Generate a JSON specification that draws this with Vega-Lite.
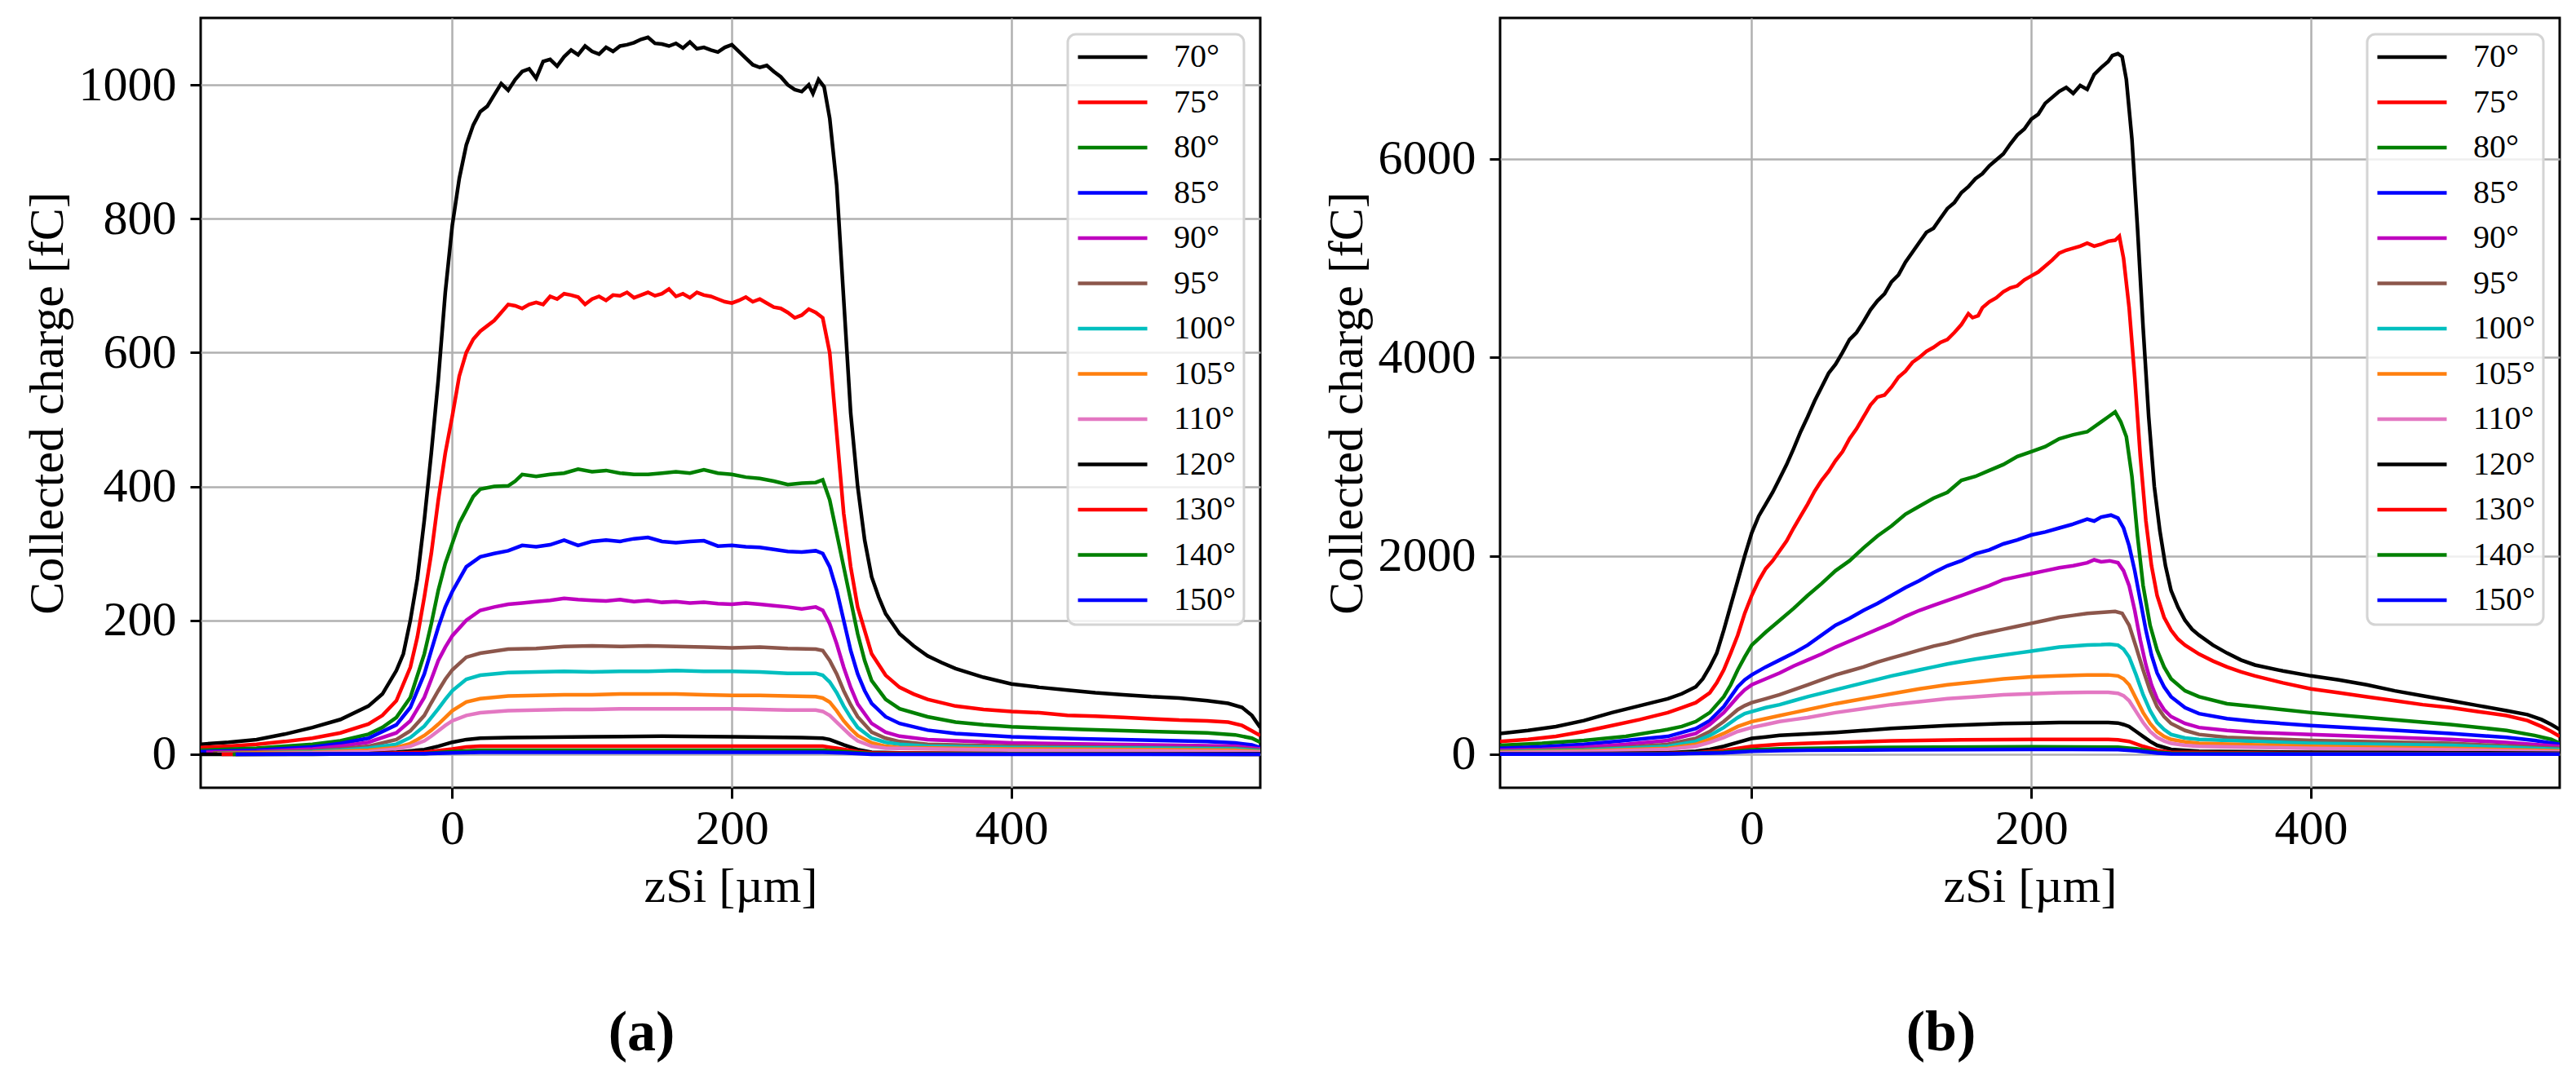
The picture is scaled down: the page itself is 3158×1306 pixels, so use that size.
{
  "$schema": "https://vega.github.io/schema/vega-lite/v6.json",
  "background": "white",
  "padding": {"left": 26, "top": 20, "right": 20, "bottom": 10},
  "data": {
    "format": {"type": "csv", "parse": {"x": "number", "y": "number"}},
    "values": "p,s,x,y\na,70°,-180,15\na,70°,-160,18\na,70°,-140,22\na,70°,-120,30\na,70°,-100,40\na,70°,-80,52\na,70°,-60,72\na,70°,-50,90\na,70°,-40,125\na,70°,-35,150\na,70°,-30,200\na,70°,-25,262\na,70°,-20,350\na,70°,-15,450\na,70°,-10,560\na,70°,-5,690\na,70°,0,790\na,70°,5,860\na,70°,10,910\na,70°,15,940\na,70°,20,960\na,70°,25,968\na,70°,30,985\na,70°,35,1002\na,70°,40,992\na,70°,45,1008\na,70°,50,1020\na,70°,55,1024\na,70°,60,1010\na,70°,65,1035\na,70°,70,1038\na,70°,75,1028\na,70°,80,1042\na,70°,85,1052\na,70°,90,1045\na,70°,95,1058\na,70°,100,1050\na,70°,105,1046\na,70°,110,1056\na,70°,115,1050\na,70°,120,1058\na,70°,125,1060\na,70°,130,1063\na,70°,135,1068\na,70°,140,1071\na,70°,145,1062\na,70°,150,1061\na,70°,155,1058\na,70°,160,1062\na,70°,165,1055\na,70°,170,1064\na,70°,175,1054\na,70°,180,1056\na,70°,185,1052\na,70°,190,1049\na,70°,195,1056\na,70°,200,1060\na,70°,205,1050\na,70°,210,1040\na,70°,215,1030\na,70°,220,1026\na,70°,225,1029\na,70°,230,1020\na,70°,235,1012\na,70°,240,1000\na,70°,245,993\na,70°,250,990\na,70°,255,1000\na,70°,258,987\na,70°,262,1008\na,70°,266,997\na,70°,270,950\na,70°,275,850\na,70°,280,680\na,70°,285,510\na,70°,290,400\na,70°,295,320\na,70°,300,265\na,70°,305,235\na,70°,310,210\na,70°,320,180\na,70°,330,162\na,70°,340,147\na,70°,350,137\na,70°,360,128\na,70°,380,115\na,70°,400,105\na,70°,420,100\na,70°,440,96\na,70°,460,92\na,70°,480,89\na,70°,500,86\na,70°,520,84\na,70°,540,80\na,70°,555,76\na,70°,565,70\na,70°,572,58\na,70°,578,40\na,75°,-180,10\na,75°,-160,12\na,75°,-140,15\na,75°,-120,19\na,75°,-100,24\na,75°,-80,32\na,75°,-60,45\na,75°,-50,58\na,75°,-40,80\na,75°,-30,130\na,75°,-25,175\na,75°,-20,235\na,75°,-15,300\na,75°,-10,380\na,75°,-5,450\na,75°,0,505\na,75°,5,565\na,75°,10,600\na,75°,15,620\na,75°,20,632\na,75°,25,640\na,75°,30,648\na,75°,35,660\na,75°,40,672\na,75°,45,670\na,75°,50,666\na,75°,55,672\na,75°,60,675\na,75°,65,672\na,75°,70,684\na,75°,75,680\na,75°,80,688\na,75°,85,686\na,75°,90,683\na,75°,95,672\na,75°,100,680\na,75°,105,684\na,75°,110,678\na,75°,115,686\na,75°,120,685\na,75°,125,690\na,75°,130,682\na,75°,135,686\na,75°,140,690\na,75°,145,685\na,75°,150,688\na,75°,155,695\na,75°,160,684\na,75°,165,688\na,75°,170,682\na,75°,175,690\na,75°,180,686\na,75°,185,684\na,75°,190,680\na,75°,195,676\na,75°,200,674\na,75°,205,678\na,75°,210,683\na,75°,215,676\na,75°,220,680\na,75°,225,674\na,75°,230,668\na,75°,235,666\na,75°,240,660\na,75°,245,652\na,75°,250,656\na,75°,255,665\na,75°,260,660\na,75°,265,652\na,75°,270,600\na,75°,275,480\na,75°,280,360\na,75°,285,280\na,75°,290,220\na,75°,300,150\na,75°,310,118\na,75°,320,100\na,75°,330,90\na,75°,340,82\na,75°,360,72\na,75°,380,67\na,75°,400,64\na,75°,420,62\na,75°,440,58\na,75°,460,57\na,75°,480,55\na,75°,500,53\na,75°,520,51\na,75°,540,50\na,75°,555,48\na,75°,565,43\na,75°,572,35\na,75°,578,28\na,80°,-180,6\na,80°,-140,9\na,80°,-100,15\na,80°,-80,20\na,80°,-60,30\na,80°,-50,40\na,80°,-40,55\na,80°,-30,85\na,80°,-20,150\na,80°,-15,195\na,80°,-10,245\na,80°,-5,285\na,80°,0,315\na,80°,5,345\na,80°,10,365\na,80°,15,385\na,80°,20,396\na,80°,30,400\na,80°,40,401\na,80°,45,408\na,80°,50,418\na,80°,60,415\na,80°,70,418\na,80°,80,420\na,80°,90,426\na,80°,100,422\na,80°,110,424\na,80°,120,420\na,80°,130,418\na,80°,140,418\na,80°,150,420\na,80°,160,422\na,80°,170,420\na,80°,180,425\na,80°,190,420\na,80°,200,418\na,80°,210,414\na,80°,220,412\na,80°,230,408\na,80°,240,403\na,80°,250,405\na,80°,260,406\na,80°,265,410\na,80°,270,380\na,80°,275,330\na,80°,280,280\na,80°,285,230\na,80°,290,180\na,80°,295,140\na,80°,300,110\na,80°,310,82\na,80°,320,68\na,80°,340,56\na,80°,360,48\na,80°,380,44\na,80°,400,41\na,80°,450,37\na,80°,500,34\na,80°,540,32\na,80°,560,29\na,80°,572,24\na,80°,578,18\na,85°,-180,4\na,85°,-140,6\na,85°,-100,11\na,85°,-80,16\na,85°,-60,24\na,85°,-40,44\na,85°,-30,70\na,85°,-20,120\na,85°,-15,155\na,85°,-10,190\na,85°,-5,220\na,85°,0,243\na,85°,10,280\na,85°,20,295\na,85°,30,300\na,85°,40,304\na,85°,50,312\na,85°,60,310\na,85°,70,313\na,85°,80,320\na,85°,90,312\na,85°,100,318\na,85°,110,320\na,85°,120,318\na,85°,130,322\na,85°,140,324\na,85°,150,318\na,85°,160,316\na,85°,170,318\na,85°,180,319\na,85°,190,311\na,85°,200,312\na,85°,210,310\na,85°,220,309\na,85°,230,306\na,85°,240,303\na,85°,250,302\na,85°,260,304\na,85°,265,300\na,85°,270,280\na,85°,275,245\na,85°,280,200\na,85°,285,155\na,85°,290,120\na,85°,295,95\na,85°,300,76\na,85°,310,56\na,85°,320,46\na,85°,340,36\na,85°,360,31\na,85°,400,26\na,85°,450,23\na,85°,500,21\na,85°,540,19\na,85°,560,17\na,85°,572,14\na,85°,578,10\na,90°,-176,3\na,90°,-140,4\na,90°,-100,8\na,90°,-80,12\na,90°,-60,18\na,90°,-40,32\na,90°,-30,50\na,90°,-20,85\na,90°,-15,112\na,90°,-10,140\na,90°,-5,160\na,90°,0,177\na,90°,10,200\na,90°,20,215\na,90°,30,220\na,90°,40,224\na,90°,50,226\na,90°,60,228\na,90°,70,230\na,90°,80,233\na,90°,90,231\na,90°,100,230\na,90°,110,229\na,90°,120,231\na,90°,130,228\na,90°,140,230\na,90°,150,227\na,90°,160,228\na,90°,170,226\na,90°,180,227\na,90°,190,225\na,90°,200,224\na,90°,210,226\na,90°,220,224\na,90°,230,222\na,90°,240,220\na,90°,250,217\na,90°,260,220\na,90°,265,215\na,90°,270,195\na,90°,275,165\na,90°,280,130\na,90°,285,100\na,90°,290,75\na,90°,300,46\na,90°,310,33\na,90°,320,27\na,90°,340,22\na,90°,400,17\na,90°,500,14\na,90°,560,12\na,90°,578,8\na,95°,-171,2\na,95°,-140,3\na,95°,-100,5\na,95°,-80,8\na,95°,-60,12\na,95°,-40,22\na,95°,-30,35\na,95°,-20,58\na,95°,-15,77\na,95°,-10,95\na,95°,-5,112\na,95°,0,126\na,95°,10,145\na,95°,20,151\na,95°,30,154\na,95°,40,157\na,95°,60,158\na,95°,80,161\na,95°,100,162\na,95°,120,161\na,95°,140,162\na,95°,160,161\na,95°,180,160\na,95°,200,159\na,95°,220,160\na,95°,240,158\na,95°,260,157\na,95°,265,155\na,95°,270,140\na,95°,275,120\na,95°,280,95\na,95°,285,74\na,95°,290,56\na,95°,300,33\na,95°,310,24\na,95°,320,19\na,95°,340,15\na,95°,400,12\na,95°,500,10\na,95°,560,9\na,95°,578,6\na,100°,-168,1\na,100°,-140,2\na,100°,-100,4\na,100°,-80,6\na,100°,-60,9\na,100°,-40,15\na,100°,-30,25\na,100°,-20,42\na,100°,-15,55\na,100°,-10,68\na,100°,-5,82\na,100°,0,95\na,100°,10,112\na,100°,20,118\na,100°,40,122\na,100°,60,123\na,100°,80,124\na,100°,100,123\na,100°,120,124\na,100°,140,124\na,100°,160,125\na,100°,180,124\na,100°,200,124\na,100°,220,123\na,100°,240,121\na,100°,260,121\na,100°,265,118\na,100°,270,108\na,100°,275,92\na,100°,280,72\na,100°,285,55\na,100°,290,40\na,100°,300,24\na,100°,310,18\na,100°,320,15\na,100°,340,12\na,100°,400,10\na,100°,500,9\na,100°,560,8\na,100°,578,5\na,105°,-168,1\na,105°,-140,2\na,105°,-100,3\na,105°,-60,6\na,105°,-40,10\na,105°,-30,16\na,105°,-20,28\na,105°,-15,36\na,105°,-10,45\na,105°,-5,55\na,105°,0,65\na,105°,10,78\na,105°,20,83\na,105°,40,87\na,105°,60,88\na,105°,80,89\na,105°,100,89\na,105°,120,90\na,105°,140,90\na,105°,160,90\na,105°,180,89\na,105°,200,88\na,105°,220,88\na,105°,240,87\na,105°,260,86\na,105°,265,84\na,105°,270,78\na,105°,275,65\na,105°,280,50\na,105°,285,38\na,105°,290,28\na,105°,300,17\na,105°,310,12\na,105°,320,10\na,105°,400,8\na,105°,500,7\na,105°,560,6\na,105°,578,4\na,110°,-168,1\na,110°,-140,1\na,110°,-100,2\na,110°,-60,4\na,110°,-40,8\na,110°,-30,12\na,110°,-20,20\na,110°,-15,27\na,110°,-10,35\na,110°,-5,43\na,110°,0,50\na,110°,10,58\na,110°,20,62\na,110°,40,65\na,110°,60,66\na,110°,80,67\na,110°,100,67\na,110°,120,68\na,110°,140,68\na,110°,160,68\na,110°,180,68\na,110°,200,68\na,110°,220,67\na,110°,240,66\na,110°,260,66\na,110°,265,64\na,110°,270,58\na,110°,275,48\na,110°,280,38\na,110°,285,28\na,110°,290,20\na,110°,300,12\na,110°,310,9\na,110°,400,6\na,110°,500,5\na,110°,560,4\na,110°,578,3\na,120°,-180,0\na,120°,-100,0\na,120°,-60,1\na,120°,-40,3\na,120°,-20,7\na,120°,-10,12\na,120°,0,18\na,120°,10,22\na,120°,20,24\na,120°,40,25\na,120°,100,26\na,120°,150,27\na,120°,200,26\na,120°,250,25\na,120°,265,24\na,120°,270,22\na,120°,280,14\na,120°,290,7\na,120°,300,3\na,120°,320,2\na,120°,400,1\na,120°,578,1\na,130°,-165,0\na,130°,-60,1\na,130°,-20,3\na,130°,0,8\na,130°,10,11\na,130°,20,12\na,130°,100,12\na,130°,200,12\na,130°,265,12\na,130°,275,9\na,130°,290,4\na,130°,300,2\na,130°,400,1\na,130°,578,0\na,140°,-157,0\na,140°,-20,1\na,140°,0,4\na,140°,20,6\na,140°,265,6\na,140°,280,4\na,140°,300,1\na,140°,578,0\na,150°,-155,0\na,150°,-20,1\na,150°,0,2\na,150°,20,3\na,150°,265,3\na,150°,280,2\na,150°,300,0\na,150°,578,0\nb,70°,-180,210\nb,70°,-160,240\nb,70°,-140,280\nb,70°,-120,340\nb,70°,-100,420\nb,70°,-80,490\nb,70°,-60,560\nb,70°,-50,610\nb,70°,-40,680\nb,70°,-35,760\nb,70°,-30,880\nb,70°,-25,1020\nb,70°,-20,1250\nb,70°,-15,1500\nb,70°,-10,1750\nb,70°,-5,2000\nb,70°,0,2230\nb,70°,5,2400\nb,70°,10,2520\nb,70°,15,2640\nb,70°,20,2780\nb,70°,25,2920\nb,70°,30,3080\nb,70°,35,3250\nb,70°,40,3400\nb,70°,45,3560\nb,70°,50,3700\nb,70°,55,3840\nb,70°,60,3930\nb,70°,65,4050\nb,70°,70,4180\nb,70°,75,4250\nb,70°,80,4360\nb,70°,85,4480\nb,70°,90,4570\nb,70°,95,4640\nb,70°,100,4760\nb,70°,105,4830\nb,70°,110,4960\nb,70°,115,5060\nb,70°,120,5160\nb,70°,125,5260\nb,70°,130,5300\nb,70°,135,5400\nb,70°,140,5500\nb,70°,145,5560\nb,70°,150,5660\nb,70°,155,5720\nb,70°,160,5800\nb,70°,165,5850\nb,70°,170,5930\nb,70°,175,5990\nb,70°,180,6050\nb,70°,185,6150\nb,70°,190,6240\nb,70°,195,6300\nb,70°,200,6400\nb,70°,205,6450\nb,70°,210,6560\nb,70°,215,6620\nb,70°,220,6680\nb,70°,225,6720\nb,70°,230,6660\nb,70°,235,6740\nb,70°,240,6700\nb,70°,245,6850\nb,70°,250,6920\nb,70°,255,6980\nb,70°,258,7040\nb,70°,262,7060\nb,70°,265,7030\nb,70°,268,6800\nb,70°,272,6200\nb,70°,276,5300\nb,70°,280,4300\nb,70°,284,3400\nb,70°,288,2700\nb,70°,292,2250\nb,70°,296,1900\nb,70°,300,1650\nb,70°,305,1480\nb,70°,310,1350\nb,70°,315,1260\nb,70°,320,1200\nb,70°,330,1100\nb,70°,340,1020\nb,70°,350,950\nb,70°,360,900\nb,70°,380,840\nb,70°,400,790\nb,70°,420,750\nb,70°,440,700\nb,70°,460,640\nb,70°,480,590\nb,70°,500,540\nb,70°,520,490\nb,70°,540,440\nb,70°,555,400\nb,70°,565,350\nb,70°,572,300\nb,70°,578,250\nb,75°,-180,130\nb,75°,-160,150\nb,75°,-140,180\nb,75°,-120,230\nb,75°,-100,290\nb,75°,-80,350\nb,75°,-60,420\nb,75°,-50,470\nb,75°,-40,520\nb,75°,-30,620\nb,75°,-25,720\nb,75°,-20,850\nb,75°,-15,1020\nb,75°,-10,1200\nb,75°,-5,1420\nb,75°,0,1600\nb,75°,5,1750\nb,75°,10,1870\nb,75°,15,1950\nb,75°,20,2050\nb,75°,25,2150\nb,75°,30,2280\nb,75°,35,2400\nb,75°,40,2520\nb,75°,45,2650\nb,75°,50,2760\nb,75°,55,2850\nb,75°,60,2960\nb,75°,65,3050\nb,75°,70,3180\nb,75°,75,3280\nb,75°,80,3400\nb,75°,85,3520\nb,75°,90,3600\nb,75°,95,3620\nb,75°,100,3700\nb,75°,105,3800\nb,75°,110,3860\nb,75°,115,3950\nb,75°,120,4000\nb,75°,125,4060\nb,75°,130,4100\nb,75°,135,4150\nb,75°,140,4180\nb,75°,145,4250\nb,75°,150,4330\nb,75°,155,4440\nb,75°,158,4400\nb,75°,162,4420\nb,75°,165,4500\nb,75°,170,4560\nb,75°,175,4600\nb,75°,180,4660\nb,75°,185,4700\nb,75°,190,4720\nb,75°,195,4780\nb,75°,200,4820\nb,75°,205,4860\nb,75°,210,4920\nb,75°,215,4980\nb,75°,220,5050\nb,75°,225,5080\nb,75°,230,5100\nb,75°,235,5120\nb,75°,240,5150\nb,75°,245,5120\nb,75°,250,5140\nb,75°,255,5170\nb,75°,260,5180\nb,75°,263,5220\nb,75°,266,5000\nb,75°,270,4500\nb,75°,274,3800\nb,75°,278,3000\nb,75°,282,2350\nb,75°,286,1900\nb,75°,290,1600\nb,75°,295,1380\nb,75°,300,1250\nb,75°,305,1160\nb,75°,310,1100\nb,75°,320,1010\nb,75°,330,940\nb,75°,340,880\nb,75°,350,830\nb,75°,360,790\nb,75°,380,720\nb,75°,400,660\nb,75°,420,620\nb,75°,440,580\nb,75°,460,540\nb,75°,480,500\nb,75°,500,470\nb,75°,520,430\nb,75°,540,390\nb,75°,555,340\nb,75°,565,280\nb,75°,572,230\nb,75°,578,180\nb,80°,-180,90\nb,80°,-150,110\nb,80°,-120,140\nb,80°,-90,180\nb,80°,-60,250\nb,80°,-50,280\nb,80°,-40,330\nb,80°,-30,420\nb,80°,-20,580\nb,80°,-15,700\nb,80°,-10,850\nb,80°,-5,980\nb,80°,0,1100\nb,80°,10,1230\nb,80°,20,1350\nb,80°,30,1470\nb,80°,40,1600\nb,80°,50,1720\nb,80°,60,1850\nb,80°,70,1950\nb,80°,80,2080\nb,80°,90,2200\nb,80°,100,2300\nb,80°,110,2420\nb,80°,120,2500\nb,80°,130,2580\nb,80°,140,2640\nb,80°,150,2760\nb,80°,160,2800\nb,80°,170,2860\nb,80°,180,2920\nb,80°,190,3000\nb,80°,200,3050\nb,80°,210,3100\nb,80°,220,3180\nb,80°,230,3220\nb,80°,240,3250\nb,80°,250,3350\nb,80°,255,3400\nb,80°,260,3450\nb,80°,264,3350\nb,80°,268,3200\nb,80°,272,2800\nb,80°,276,2200\nb,80°,280,1700\nb,80°,285,1300\nb,80°,290,1050\nb,80°,295,880\nb,80°,300,760\nb,80°,310,640\nb,80°,320,580\nb,80°,340,510\nb,80°,360,480\nb,80°,380,450\nb,80°,400,420\nb,80°,450,360\nb,80°,500,300\nb,80°,540,240\nb,80°,560,190\nb,80°,572,150\nb,80°,578,110\nb,85°,-180,60\nb,85°,-150,75\nb,85°,-120,100\nb,85°,-90,140\nb,85°,-60,180\nb,85°,-40,260\nb,85°,-30,340\nb,85°,-20,480\nb,85°,-15,580\nb,85°,-10,680\nb,85°,-5,750\nb,85°,0,800\nb,85°,10,880\nb,85°,20,950\nb,85°,30,1020\nb,85°,40,1100\nb,85°,50,1200\nb,85°,60,1300\nb,85°,70,1370\nb,85°,80,1450\nb,85°,90,1520\nb,85°,100,1600\nb,85°,110,1680\nb,85°,120,1750\nb,85°,130,1830\nb,85°,140,1900\nb,85°,150,1950\nb,85°,160,2020\nb,85°,170,2060\nb,85°,180,2120\nb,85°,190,2160\nb,85°,200,2210\nb,85°,210,2240\nb,85°,220,2280\nb,85°,230,2320\nb,85°,240,2370\nb,85°,245,2350\nb,85°,250,2390\nb,85°,257,2410\nb,85°,262,2380\nb,85°,266,2280\nb,85°,270,2100\nb,85°,274,1850\nb,85°,278,1550\nb,85°,282,1250\nb,85°,286,1000\nb,85°,290,820\nb,85°,295,680\nb,85°,300,580\nb,85°,310,470\nb,85°,320,410\nb,85°,340,360\nb,85°,360,330\nb,85°,400,290\nb,85°,450,250\nb,85°,500,210\nb,85°,540,170\nb,85°,560,140\nb,85°,578,100\nb,90°,-180,40\nb,90°,-150,50\nb,90°,-120,70\nb,90°,-90,100\nb,90°,-60,140\nb,90°,-40,210\nb,90°,-30,300\nb,90°,-20,420\nb,90°,-15,500\nb,90°,-10,580\nb,90°,-5,650\nb,90°,0,700\nb,90°,10,760\nb,90°,20,820\nb,90°,30,890\nb,90°,40,950\nb,90°,50,1010\nb,90°,60,1080\nb,90°,70,1140\nb,90°,80,1200\nb,90°,90,1260\nb,90°,100,1320\nb,90°,110,1390\nb,90°,120,1450\nb,90°,130,1500\nb,90°,140,1550\nb,90°,150,1600\nb,90°,160,1650\nb,90°,170,1700\nb,90°,180,1760\nb,90°,190,1790\nb,90°,200,1820\nb,90°,210,1850\nb,90°,220,1880\nb,90°,230,1900\nb,90°,240,1930\nb,90°,245,1960\nb,90°,250,1940\nb,90°,256,1950\nb,90°,262,1930\nb,90°,266,1850\nb,90°,270,1700\nb,90°,274,1450\nb,90°,278,1150\nb,90°,282,900\nb,90°,286,700\nb,90°,290,560\nb,90°,295,450\nb,90°,300,380\nb,90°,310,310\nb,90°,320,270\nb,90°,340,240\nb,90°,360,220\nb,90°,400,200\nb,90°,450,175\nb,90°,500,150\nb,90°,540,120\nb,90°,578,80\nb,95°,-180,30\nb,95°,-120,50\nb,95°,-90,70\nb,95°,-60,100\nb,95°,-40,160\nb,95°,-30,230\nb,95°,-20,330\nb,95°,-15,390\nb,95°,-10,450\nb,95°,-5,490\nb,95°,0,520\nb,95°,10,560\nb,95°,20,600\nb,95°,30,650\nb,95°,40,700\nb,95°,50,750\nb,95°,60,800\nb,95°,70,840\nb,95°,80,880\nb,95°,90,930\nb,95°,100,970\nb,95°,110,1010\nb,95°,120,1050\nb,95°,130,1090\nb,95°,140,1120\nb,95°,150,1160\nb,95°,160,1200\nb,95°,170,1230\nb,95°,180,1260\nb,95°,190,1290\nb,95°,200,1320\nb,95°,210,1350\nb,95°,220,1380\nb,95°,230,1400\nb,95°,240,1420\nb,95°,250,1430\nb,95°,260,1440\nb,95°,265,1420\nb,95°,270,1300\nb,95°,275,1080\nb,95°,280,850\nb,95°,285,640\nb,95°,290,480\nb,95°,295,380\nb,95°,300,310\nb,95°,310,240\nb,95°,320,200\nb,95°,340,170\nb,95°,400,140\nb,95°,500,110\nb,95°,578,60\nb,100°,-180,25\nb,100°,-120,40\nb,100°,-60,80\nb,100°,-40,130\nb,100°,-30,190\nb,100°,-20,270\nb,100°,-10,370\nb,100°,-5,410\nb,100°,0,430\nb,100°,10,470\nb,100°,20,500\nb,100°,30,540\nb,100°,40,580\nb,100°,50,615\nb,100°,60,650\nb,100°,70,685\nb,100°,80,720\nb,100°,90,755\nb,100°,100,790\nb,100°,110,820\nb,100°,120,850\nb,100°,130,880\nb,100°,140,910\nb,100°,150,935\nb,100°,160,960\nb,100°,170,980\nb,100°,180,1000\nb,100°,190,1020\nb,100°,200,1040\nb,100°,210,1060\nb,100°,220,1080\nb,100°,230,1090\nb,100°,240,1100\nb,100°,250,1105\nb,100°,256,1110\nb,100°,262,1100\nb,100°,266,1060\nb,100°,270,980\nb,100°,275,800\nb,100°,280,600\nb,100°,285,440\nb,100°,290,320\nb,100°,295,250\nb,100°,300,200\nb,100°,310,165\nb,100°,320,150\nb,100°,400,110\nb,100°,500,90\nb,100°,578,50\nb,105°,-180,20\nb,105°,-120,32\nb,105°,-60,60\nb,105°,-40,100\nb,105°,-30,150\nb,105°,-20,210\nb,105°,-10,280\nb,105°,0,330\nb,105°,10,360\nb,105°,20,390\nb,105°,30,420\nb,105°,40,450\nb,105°,60,510\nb,105°,80,560\nb,105°,100,610\nb,105°,120,660\nb,105°,140,700\nb,105°,160,730\nb,105°,180,760\nb,105°,200,780\nb,105°,220,790\nb,105°,240,800\nb,105°,255,800\nb,105°,262,790\nb,105°,266,760\nb,105°,270,700\nb,105°,275,560\nb,105°,280,420\nb,105°,285,310\nb,105°,290,230\nb,105°,295,180\nb,105°,300,150\nb,105°,310,125\nb,105°,320,110\nb,105°,400,80\nb,105°,500,60\nb,105°,578,35\nb,110°,-180,15\nb,110°,-120,25\nb,110°,-60,50\nb,110°,-40,80\nb,110°,-30,120\nb,110°,-20,170\nb,110°,-10,230\nb,110°,0,270\nb,110°,10,300\nb,110°,20,330\nb,110°,30,350\nb,110°,40,370\nb,110°,60,420\nb,110°,80,460\nb,110°,100,500\nb,110°,120,530\nb,110°,140,560\nb,110°,160,580\nb,110°,180,600\nb,110°,200,610\nb,110°,220,620\nb,110°,240,625\nb,110°,255,625\nb,110°,262,615\nb,110°,266,590\nb,110°,270,540\nb,110°,275,430\nb,110°,280,320\nb,110°,285,230\nb,110°,290,170\nb,110°,295,135\nb,110°,300,110\nb,110°,310,90\nb,110°,320,80\nb,110°,400,60\nb,110°,500,45\nb,110°,578,25\nb,120°,-180,5\nb,120°,-100,8\nb,120°,-60,15\nb,120°,-40,30\nb,120°,-30,50\nb,120°,-20,80\nb,120°,-10,120\nb,120°,0,160\nb,120°,10,175\nb,120°,20,190\nb,120°,40,205\nb,120°,60,220\nb,120°,80,240\nb,120°,100,260\nb,120°,120,275\nb,120°,140,290\nb,120°,160,300\nb,120°,180,310\nb,120°,200,315\nb,120°,220,320\nb,120°,240,320\nb,120°,255,320\nb,120°,262,315\nb,120°,266,300\nb,120°,270,280\nb,120°,275,230\nb,120°,280,180\nb,120°,285,130\nb,120°,290,90\nb,120°,300,50\nb,120°,320,30\nb,120°,400,20\nb,120°,500,15\nb,120°,578,10\nb,130°,-180,3\nb,130°,-60,8\nb,130°,-40,15\nb,130°,-20,40\nb,130°,-10,60\nb,130°,0,80\nb,130°,20,100\nb,130°,40,110\nb,130°,60,120\nb,130°,100,135\nb,130°,150,145\nb,130°,200,150\nb,130°,255,150\nb,130°,262,145\nb,130°,270,130\nb,130°,280,80\nb,130°,290,40\nb,130°,300,20\nb,130°,400,8\nb,130°,578,3\nb,140°,-180,2\nb,140°,-60,5\nb,140°,-20,20\nb,140°,0,45\nb,140°,20,55\nb,140°,40,60\nb,140°,100,70\nb,140°,200,75\nb,140°,262,72\nb,140°,275,55\nb,140°,290,20\nb,140°,300,10\nb,140°,400,4\nb,140°,578,2\nb,150°,-180,1\nb,150°,-60,3\nb,150°,-20,15\nb,150°,0,30\nb,150°,20,36\nb,150°,40,40\nb,150°,100,45\nb,150°,200,50\nb,150°,262,48\nb,150°,275,35\nb,150°,290,12\nb,150°,300,5\nb,150°,400,2\nb,150°,578,1\n"
  },
  "bounds": "flush",
  "spacing": 294,
  "hconcat": [
    {
      "width": 1299,
      "height": 944,
      "title": {"text": "(a)", "orient": "bottom", "frame": "bounds", "anchor": "middle", "offset": 116},
      "transform": [{"filter": "datum.p == 'a'"}],
      "mark": {"type": "line", "strokeWidth": 4.5, "clip": true},
      "encoding": {
        "x": {
          "field": "x",
          "type": "quantitative",
          "scale": {"domain": [-180, 578], "nice": false, "zero": false},
          "axis": {"values": [0, 200, 400], "title": "zSi [µm]"}
        },
        "y": {
          "field": "y",
          "type": "quantitative",
          "scale": {"domain": [-50, 1100], "nice": false, "zero": false},
          "axis": {"values": [0, 200, 400, 600, 800, 1000], "format": "d", "title": "Collected charge [fC]"}
        },
        "color": {
          "field": "s",
          "type": "nominal",
          "scale": {
            "domain": ["70°", "75°", "80°", "85°", "90°", "95°", "100°", "105°", "110°", "120°", "130°", "140°", "150°"],
            "range": ["#000000", "#ff0000", "#008000", "#0000ff", "#bf00bf", "#8c564b", "#00bfbf", "#ff7f0e", "#e377c2", "#000000", "#ff0000", "#008000", "#0000ff"]
          },
          "legend": {"title": null}
        }
      }
    },
    {
      "width": 1299,
      "height": 944,
      "title": {"text": "(b)", "orient": "bottom", "frame": "bounds", "anchor": "middle", "offset": 116},
      "transform": [{"filter": "datum.p == 'b'"}],
      "mark": {"type": "line", "strokeWidth": 4.5, "clip": true},
      "encoding": {
        "x": {
          "field": "x",
          "type": "quantitative",
          "scale": {"domain": [-180, 578], "nice": false, "zero": false},
          "axis": {"values": [0, 200, 400], "title": "zSi [µm]"}
        },
        "y": {
          "field": "y",
          "type": "quantitative",
          "scale": {"domain": [-337, 7420], "nice": false, "zero": false},
          "axis": {"values": [0, 2000, 4000, 6000], "format": "d", "title": "Collected charge [fC]"}
        },
        "color": {
          "field": "s",
          "type": "nominal",
          "scale": {
            "domain": ["70°", "75°", "80°", "85°", "90°", "95°", "100°", "105°", "110°", "120°", "130°", "140°", "150°"],
            "range": ["#000000", "#ff0000", "#008000", "#0000ff", "#bf00bf", "#8c564b", "#00bfbf", "#ff7f0e", "#e377c2", "#000000", "#ff0000", "#008000", "#0000ff"]
          },
          "legend": {"title": null}
        }
      }
    }
  ],
  "resolve": {"scale": {"color": "independent"}, "legend": {"color": "independent"}},
  "config": {
    "font": "Liberation Serif",
    "view": {"stroke": "black", "strokeWidth": 3},
    "axis": {
      "labelFont": "Liberation Serif",
      "labelFontSize": 60,
      "labelColor": "black",
      "titleFont": "Liberation Serif",
      "titleFontSize": 60,
      "titleFontWeight": "normal",
      "titleColor": "black",
      "domain": false,
      "tickColor": "black",
      "tickWidth": 3,
      "tickSize": 13,
      "gridColor": "#b0b0b0",
      "gridWidth": 2.5,
      "labelOverlap": false,
      "labelFlush": false
    },
    "axisX": {"labelPadding": 8, "titlePadding": 12},
    "axisY": {"labelPadding": 17, "titlePadding": 7},
    "legend": {
      "orient": "top-right",
      "offset": 20,
      "padding": 10,
      "cornerRadius": 10,
      "strokeColor": "#d4d4d4",
      "strokeWidth": 3,
      "fillColor": "rgba(255,255,255,0.8)",
      "symbolType": "stroke",
      "symbolSize": 7225,
      "symbolStrokeWidth": 4.5,
      "labelFont": "Liberation Serif",
      "labelFontSize": 40,
      "labelColor": "black",
      "labelOffset": 30,
      "clipHeight": 36,
      "rowPadding": 15.5
    },
    "title": {"font": "Liberation Serif", "fontSize": 70, "fontWeight": "bold", "color": "black"}
  }
}
